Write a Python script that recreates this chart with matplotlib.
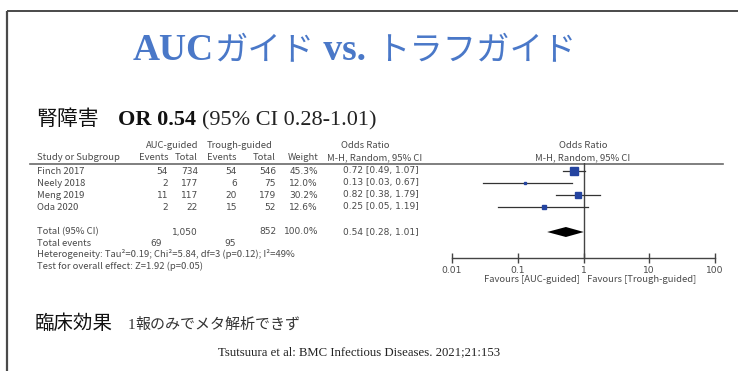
import numpy as np
import matplotlib
matplotlib.use('Agg')
import matplotlib.pyplot as plt

# study-level data
studies = ['Finch 2017', 'Neely 2018', 'Meng 2019', 'Oda 2020']
auc_events = [54, 2, 11, 2]
auc_total = [734, 177, 117, 22]
trough_events = [54, 6, 20, 15]
trough_total = [546, 75, 179, 52]
weights = [45.3, 12.0, 30.2, 12.6]
odds = [0.72, 0.13, 0.82, 0.25]
ci_low = [0.49, 0.03, 0.38, 0.05]
ci_high = [1.07, 0.67, 1.79, 1.19]

# pooled result
pooled_or = 0.54
pooled_low = 0.28
pooled_high = 1.01
total_weight = 100.0
sum_auc_total = '1,050'
sum_trough_total = '852'
sum_auc_events = 69
sum_trough_events = 95

axis_ticks = [0.01, 0.1, 1, 10, 100]
axis_labels = ['0.01', '0.1', '1', '10', '100']

W, H = 738, 371
fig = plt.figure(figsize=(W / 100, H / 100), dpi=100)
ax = fig.add_axes([0, 0, 1, 1])
ax.set_xlim(0, W)
ax.set_ylim(H, 0)
ax.axis('off')

rend = fig.canvas.get_renderer()

def runs(x, y, parts):
    # lay out several differently styled strings one after another
    for s, kw in parts:
        t = ax.text(x, y, s, va='baseline', ha='left', **kw)
        bb = t.get_window_extent(rend)
        x = bb.x1

# slide frame
ax.plot([7, W], [11, 11], color='#3a3a3a', lw=1.3, solid_capstyle='butt')
ax.plot([7, 7], [11, H], color='#4a4a4a', lw=1.6, solid_capstyle='butt')

# heading
blue = '#4a78c8'
serif = ['Liberation Serif', 'DejaVu Serif']
cjk = ['Noto Sans CJK JP', 'DejaVu Sans']
runs(133, 60, [
    ('AUC', dict(family=serif, weight='bold', size=27, color=blue)),
    ('ガイド', dict(family=cjk, size=24, color=blue)),
    (' vs. ', dict(family=serif, weight='bold', size=27, color=blue)),
    ('トラフガイド', dict(family=cjk, size=24, color=blue)),
])

runs(36, 125, [('腎障害', dict(family=cjk, size=15, color='#111111'))])
runs(118, 125, [
    ('OR 0.54 ', dict(family=serif, weight='bold', size=16, color='#111111')),
    ('(95% CI 0.28-1.01)', dict(family=serif, size=16, color='#222222')),
])

# table
tc = '#4a4a4a'
tf = dict(family=cjk, size=6.8, color=tc)
nf = dict(family=['DejaVu Sans'], size=6.5, color=tc)

def cell(x, y, s, ha='right', num=False):
    ax.text(x, y, s, ha=ha, va='center', **(nf if num else tf))

cell(172, 146, 'AUC-guided', 'center')
cell(240, 146, 'Trough-guided', 'center')
cell(365, 146, 'Odds Ratio', 'center')
cell(583, 146, 'Odds Ratio', 'center')
cell(37, 158, 'Study or Subgroup', 'left')
cell(168, 158, 'Events')
cell(198, 158, 'Total')
cell(237, 158, 'Events')
cell(276, 158, 'Total')
cell(318, 158, 'Weight')
cell(422, 158, 'M-H, Random, 95% CI')
cell(583, 158, 'M-H, Random, 95% CI', 'center')

ax.plot([30, 723], [164, 164], color='#6a6a6a', lw=1.2)

row_y = [171, 183, 195, 207]
for i, y in enumerate(row_y):
    cell(37, y, studies[i], 'left')
    cell(168, y, str(auc_events[i]), num=True)
    cell(198, y, str(auc_total[i]), num=True)
    cell(237, y, str(trough_events[i]), num=True)
    cell(276, y, str(trough_total[i]), num=True)
    cell(318, y, '%.1f%%' % weights[i], num=True)
    cell(419, y, '%.2f [%.2f, %.2f]' % (odds[i], ci_low[i], ci_high[i]), num=True)

tot_y = 232
cell(37, tot_y, 'Total (95% CI)', 'left')
cell(198, tot_y, sum_auc_total, num=True)
cell(276, tot_y, sum_trough_total, num=True)
cell(318, tot_y, '%.1f%%' % total_weight, num=True)
cell(419, tot_y, '%.2f [%.2f, %.2f]' % (pooled_or, pooled_low, pooled_high), num=True)
cell(37, 243, 'Total events', 'left')
cell(162, 243, str(sum_auc_events), num=True)
cell(236, 243, str(sum_trough_events), num=True)
cell(37, 254, 'Heterogeneity: Tau²=0.19; Chi²=5.84, df=3 (p=0.12); I²=49%', 'left')
cell(37, 266, 'Test for overall effect: Z=1.92 (p=0.05)', 'left')

# forest plot
x0, x1 = 452, 715
ytop, ybot = 163, 258
fx = fig.add_axes([x0 / W, (H - ybot) / H, (x1 - x0) / W, (ybot - ytop) / H])
fx.set_xscale('log')
fx.set_xlim(axis_ticks[0], axis_ticks[-1])
fx.set_ylim(ybot, ytop)
fx.patch.set_alpha(0)
for s in ['top', 'left', 'right']:
    fx.spines[s].set_visible(False)
fx.spines['bottom'].set_color('#444444')
fx.spines['bottom'].set_linewidth(1.0)
fx.set_yticks([])
fx.set_xticks(axis_ticks)
fx.set_xticklabels(axis_labels)
fx.minorticks_off()
fx.tick_params(axis='x', direction='inout', length=7, width=1.0, color='#444444',
               labelsize=6.6, labelcolor=tc, pad=2)
for lab in fx.get_xticklabels():
    lab.set_family(['DejaVu Sans'])

fx.axvline(1, color='#444444', lw=1.0)
for i, y in enumerate(row_y):
    fx.plot([ci_low[i], ci_high[i]], [y, y], color='#333333', lw=0.9)
    side = 8 * (weights[i] / max(weights)) ** 0.75
    fx.plot(odds[i], y, marker='s', ms=side * 0.72, color='#2444a0', mec='#2444a0')

dh = 5
fx.fill([pooled_low, pooled_or, pooled_high, pooled_or],
        [tot_y, tot_y - dh, tot_y, tot_y + dh], color='black', lw=0)

cell(580, 279, 'Favours [AUC-guided]')
cell(587, 279, 'Favours [Trough-guided]', 'left')

# footer
runs(35, 329, [('臨床効果', dict(family=cjk, size=14, color='#111111'))])
runs(128, 329, [
    ('1', dict(family=serif, size=11, color='#333333')),
    ('報のみでメタ解析できず', dict(family=cjk, size=10.8, color='#333333')),
])
ax.text(359, 352, 'Tsutsuura et al: BMC Infectious Diseases. 2021;21:153',
        ha='center', va='center', family=serif, size=9.2, color='#222222')

fig.savefig('out.png', dpi=100)
